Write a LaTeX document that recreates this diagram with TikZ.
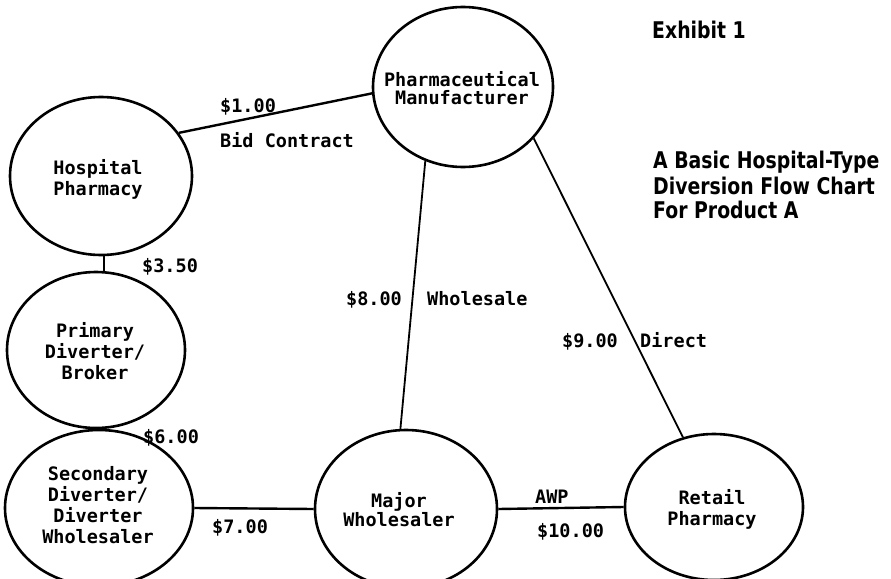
\documentclass[tikz,border=0pt]{standalone}
\usepackage{fontspec}
\usetikzlibrary{shapes.geometric}
\newfontfamily\lblfont{DejaVu Sans Mono}
\newfontfamily\ttlfont{DejaVu Sans}[FakeStretch=0.82]
\begin{document}
\begin{tikzpicture}[x=1pt,y=-1pt,
  ell/.style={draw, ellipse, line width=2.6pt, inner sep=0pt},
  txt/.style={font=\lblfont\bfseries\fontsize{18.5}{21}\selectfont, align=center, inner sep=0pt},
  lbl/.style={font=\lblfont\bfseries\fontsize{18.5}{21}\selectfont, inner sep=0pt},
  conn/.style={line width=2.4pt},
  thinconn/.style={line width=1.8pt},
  ttl/.style={font=\ttlfont\bfseries\fontsize{23}{25}\selectfont, inner sep=0pt, anchor=base west}]
\useasboundingbox (0,0) rectangle (891,578);
\fill[white] (0,0) rectangle (891,578);

% circles
\node[ell, minimum width=180pt, minimum height=160pt] (man) at (463,87) {};
\node[ell, minimum width=182pt, minimum height=158pt] (hosp) at (101,176) {};
\node[ell, minimum width=178pt, minimum height=156pt] (prim) at (96,350) {};
\node[ell, minimum width=188pt, minimum height=156pt] (sec) at (99,508) {};
\node[ell, minimum width=182pt, minimum height=158pt] (maj) at (406,509) {};
\node[ell, minimum width=178pt, minimum height=146pt] (ret) at (714,507) {};

% circle texts
\node[txt] (manT) at (462,88) {Pharmaceutical\\[-3pt]Manufacturer};
\node[txt] (hospT) at (98,179) {Hospital\\Pharmacy};
\node[txt] (primT) at (95,351) {Primary\\Diverter/\\Broker};
\node[txt] (secT) at (98,505) {Secondary\\Diverter/\\Diverter\\Wholesaler};
\node[txt] (majT) at (399,510) {Major\\[-2pt]Wholesaler};
\node[txt] (retT) at (712,509) {Retail\\Pharmacy};

% connectors
\draw[conn] (hosp.29) -- (man.184);
\draw[conn] (hosp.-88) -- (hosp.-88 |- prim.north);
\draw[conn] (prim.-85) -- (prim.-85 |- sec.north);
\draw[conn] (sec.east) -- (maj.west);
\draw[conn] (maj.east) -- (ret.west);
\draw[thinconn] (man.243) -- (maj.94);
\draw[thinconn] (man.-36) -- (ret.114);

% connector labels
\node[lbl, anchor=base west] (l1) at (220,112) {\$1.00};
\node[lbl, anchor=base west] (l1b) at (220,147) {Bid Contract};
\node[lbl, anchor=base west] (l2) at (142,272) {\$3.50};
\node[lbl, anchor=base west] (l3) at (143,443) {\$6.00};
\node[lbl, anchor=base west] (l4) at (212,533) {\$7.00};
\node[lbl, anchor=base east] (l5) at (402,305) {\$8.00};
\node[lbl, anchor=base west] (l5b) at (427,305) {Wholesale};
\node[lbl, anchor=base east] (l6) at (618,347) {\$9.00};
\node[lbl, anchor=base west] (l6b) at (640,347) {Direct};
\node[lbl, anchor=base west] (l7) at (535,503) {AWP};
\node[lbl, anchor=base west] (l7b) at (537,537) {\$10.00};

% title
\node[ttl] (ex) at (652,38) {Exhibit 1};
\node[ttl] (t1) at (653,168) {A Basic Hospital-Type};
\node[ttl] (t2) at (653,194) {Diversion Flow Chart};
\node[ttl] (t3) at (653,218) {For Product A};
\end{tikzpicture}
\end{document}
